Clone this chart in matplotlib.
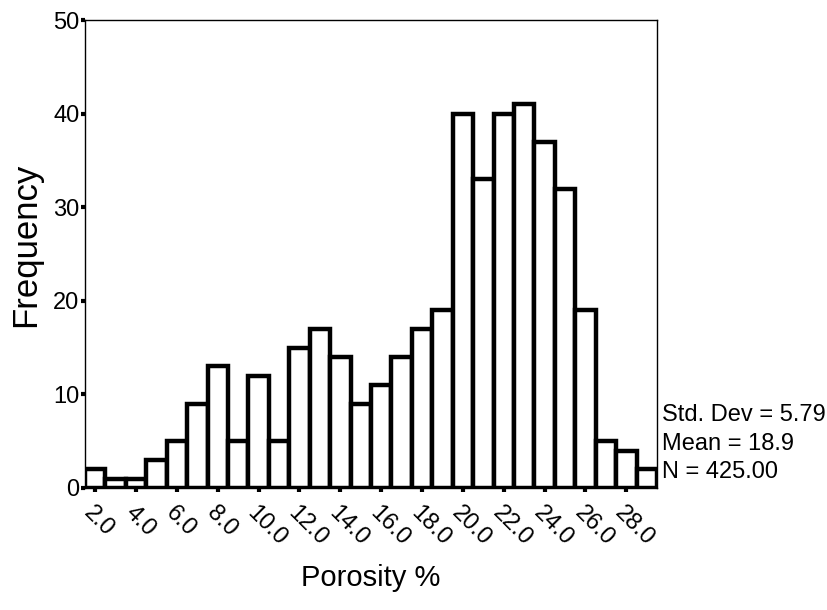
import numpy as np
import matplotlib.pyplot as plt

plt.rcParams['font.family'] = ['Liberation Sans', 'DejaVu Sans']

# porosity bins (centres, width 1) and counts
bin_centres = np.arange(2, 30)
counts = [2, 1, 1, 3, 5, 9, 13, 5, 12, 5, 15, 17, 14, 9, 11, 14, 17, 19,
          40, 33, 40, 41, 37, 32, 19, 5, 4, 2]
tick_values = np.arange(2, 30, 2)
tick_labels = ['%.1f' % v for v in tick_values]
stats_lines = ['Std. Dev = 5.79', 'Mean = 18.9', 'N = 425.00']

fig = plt.figure(figsize=(8.27, 6.10), dpi=100)
ax = fig.add_axes([0.1028, 0.2, 0.6916, 0.767])

ax.bar(bin_centres, counts, width=1.0, color='white', edgecolor='black',
       linewidth=3.2, zorder=3)

ax.set_xlim(1.5, 29.5)
ax.set_ylim(0, 50)
ax.set_yticks(np.arange(0, 51, 10))
ax.tick_params(axis='y', direction='out', length=3, width=3, pad=1, labelsize=17)
ax.set_xticks(tick_values)
ax.set_xticklabels(tick_labels, rotation=-45, ha='left', va='top',
                   rotation_mode='anchor', fontsize=17)
ax.tick_params(axis='x', direction='out', length=3, width=3, pad=7)
for s in ax.spines.values():
    s.set_linewidth(1.0)

ax.set_ylabel('Frequency', fontsize=25)
ax.yaxis.set_label_coords(-0.075, 0.52)
ax.set_xlabel('Porosity %', fontsize=21, labelpad=10)

for i, line in enumerate(stats_lines):
    ax.text(1.008, 0.155 - i * 0.06, line, transform=ax.transAxes,
            fontsize=17, ha='left', va='center')

fig.savefig('out.png', dpi=100)
